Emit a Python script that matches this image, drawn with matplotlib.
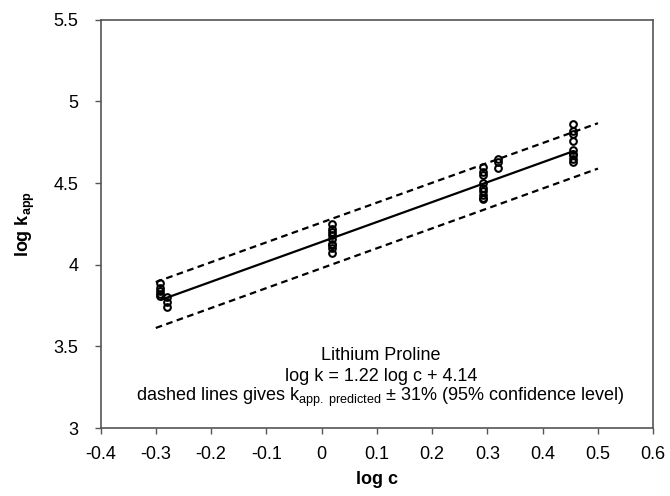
import numpy as np
from matplotlib import pyplot as plt

plt.rcParams['font.family'] = ['Liberation Sans', 'DejaVu Sans']
plt.rcParams['mathtext.fontset'] = 'custom'
plt.rcParams['mathtext.rm'] = 'Liberation Sans'
plt.rcParams['mathtext.it'] = 'Liberation Sans:italic'
plt.rcParams['mathtext.bf'] = 'Liberation Sans:bold'

# measured points (log c, log k_app)
x_pts = ([-0.292] * 5 + [-0.279] * 3 + [0.018] * 9 + [0.292] * 9
         + [0.319] * 3 + [0.455] * 9)
y_pts = [3.89, 3.86, 3.84, 3.82, 3.81,
         3.80, 3.77, 3.74,
         4.25, 4.22, 4.20, 4.18, 4.16, 4.13, 4.12, 4.10, 4.07,
         4.60, 4.57, 4.55, 4.50, 4.47, 4.45, 4.43, 4.41, 4.40,
         4.65, 4.63, 4.59,
         4.86, 4.82, 4.80, 4.76, 4.70, 4.68, 4.67, 4.65, 4.63]

# fit line and confidence band ends
fit_x = [-0.29, 0.455]
fit_y = [3.786, 4.695]
band_x = [-0.30, 0.50]
upper_y = [3.894, 4.867]
lower_y = [3.613, 4.589]

x_ticks = [-0.4, -0.3, -0.2, -0.1, 0, 0.1, 0.2, 0.3, 0.4, 0.5, 0.6]
y_ticks = [3, 3.5, 4, 4.5, 5, 5.5]


def main():
    fig = plt.figure(figsize=(6.7, 4.96), dpi=100)
    ax = fig.add_axes([0.150, 0.137, 0.825, 0.823])

    ax.plot(band_x, upper_y, color='black', ls=(0, (3, 2)), lw=1.6)
    ax.plot(band_x, lower_y, color='black', ls=(0, (3, 2)), lw=1.6)
    ax.plot(fit_x, fit_y, color='black', lw=1.6)
    ax.plot(x_pts, y_pts, ls='none', marker='o', ms=4.8, mfc='none',
            mec='black', mew=1.5)

    ax.set_xlim(-0.4, 0.6)
    ax.set_ylim(3, 5.5)
    ax.set_xticks(x_ticks)
    ax.set_xticklabels([f'{t:g}' for t in x_ticks])
    ax.set_yticks(y_ticks)
    ax.set_yticklabels([f'{t:g}' for t in y_ticks])
    ax.tick_params(direction='out', length=4, width=1, color='#555555',
                   labelsize=13)
    ax.tick_params(axis='x', pad=9)
    ax.tick_params(axis='y', pad=12)
    for s in ax.spines.values():
        s.set_color('#555555')
        s.set_linewidth(1.2)

    ax.set_xlabel('log c', fontsize=13, fontweight='bold', labelpad=6)
    ax.set_ylabel(r'log k$_{\bf app}$', fontsize=13, fontweight='bold',
                  labelpad=12)

    ax.text(0.107, 3.445, 'Lithium Proline', ha='center', va='center',
            fontsize=13)
    ax.text(0.107, 3.314, 'log k = 1.22 log c + 4.14', ha='center',
            va='center', fontsize=13)
    ax.text(0.107, 3.19,
            r'dashed lines gives k$_{\rm app.\ predicted}$ ± 31% (95% confidence level)',
            ha='center', va='center', fontsize=13)

    fig.savefig('out.png', dpi=100)


if __name__ == "__main__":
    main()
